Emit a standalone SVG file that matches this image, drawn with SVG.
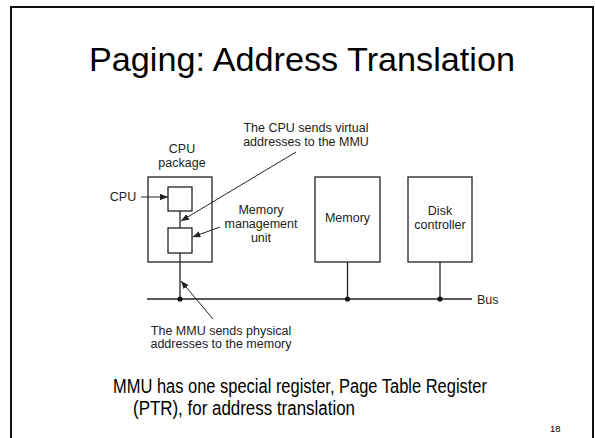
<svg xmlns="http://www.w3.org/2000/svg" width="595" height="438" viewBox="0 0 595 438">
  <defs>
    <style>
      .frame { fill: none; stroke: #111; stroke-width: 2; }
      .box { fill: #fff; stroke: #222; stroke-width: 1.3; }
      .wire { fill: none; stroke: #222; stroke-width: 1.3; }
      .lead { fill: none; stroke: #222; stroke-width: 1; }
      .lbl { font-family: "Liberation Sans", Arial, sans-serif; font-size: 12.5px; fill: #222; text-anchor: middle; }
      .head { font-family: "Liberation Sans", Arial, sans-serif; fill: #000; }
      .dot { fill: #111; }
    </style>
    <marker id="arrow" viewBox="0 0 10 8" refX="10" refY="4" markerWidth="8" markerHeight="6.4" markerUnits="userSpaceOnUse" orient="auto">
      <path d="M0,0 L10,4 L0,8 Z" fill="#222"/>
    </marker>
  </defs>

  <rect width="595" height="438" fill="#fff"/>
  <path class="frame" d="M11,440 V7 H593 V440"/>

  <!-- Title -->
  <text class="head" x="89" y="71" font-size="34" textLength="426" lengthAdjust="spacingAndGlyphs">Paging: Address Translation</text>

  <!-- Nodes -->
  <g id="cpu-package">
    <rect class="box" x="148" y="177" width="64" height="85"/>
    <text class="lbl" x="182" y="153">CPU</text>
    <text class="lbl" x="182" y="167">package</text>
  </g>
  <g id="cpu">
    <rect class="box" x="168" y="187" width="24" height="24"/>
    <text class="lbl" x="123" y="201">CPU</text>
  </g>
  <g id="mmu">
    <rect class="box" x="168" y="228" width="24" height="25"/>
    <text class="lbl" x="261" y="214">Memory</text>
    <text class="lbl" x="261" y="228">management</text>
    <text class="lbl" x="261" y="242">unit</text>
  </g>
  <g id="memory">
    <rect class="box" x="315" y="177" width="65" height="85"/>
    <text class="lbl" x="347.5" y="222">Memory</text>
  </g>
  <g id="disk-controller">
    <rect class="box" x="408" y="177" width="64" height="85"/>
    <text class="lbl" x="440" y="215">Disk</text>
    <text class="lbl" x="440" y="229">controller</text>
  </g>
  <g id="bus">
    <text class="lbl" x="477" y="303.5" style="text-anchor:start">Bus</text>
  </g>
  <g id="note-virtual">
    <text class="lbl" x="306" y="132">The CPU sends virtual</text>
    <text class="lbl" x="306" y="146">addresses to the MMU</text>
  </g>
  <g id="note-physical">
    <text class="lbl" x="221" y="335">The MMU sends physical</text>
    <text class="lbl" x="221" y="348">addresses to the memory</text>
  </g>

  <!-- Connectors -->
  <g id="connectors">
    <line class="wire" x1="147" y1="299" x2="472" y2="299"/>
    <line class="wire" x1="180" y1="211" x2="180" y2="228"/>
    <line class="wire" x1="180" y1="253" x2="180" y2="299"/>
    <line class="wire" x1="347.5" y1="262" x2="347.5" y2="299"/>
    <line class="wire" x1="440" y1="262" x2="440" y2="299"/>
    <circle class="dot" cx="180" cy="299" r="2.6"/>
    <circle class="dot" cx="347.5" cy="299" r="2.6"/>
    <circle class="dot" cx="440" cy="299" r="2.6"/>
    <line class="lead" x1="141" y1="197" x2="168" y2="197" marker-end="url(#arrow)"/>
    <line class="lead" x1="220" y1="227" x2="192.5" y2="237" marker-end="url(#arrow)"/>
    <line class="lead" x1="296" y1="152" x2="181" y2="221" marker-end="url(#arrow)"/>
    <line class="lead" x1="213" y1="319" x2="181" y2="281" marker-end="url(#arrow)"/>
  </g>

  <!-- Footer text -->
  <text class="head" x="113" y="393" font-size="20" textLength="374" lengthAdjust="spacingAndGlyphs">MMU has one special register, Page Table Register</text>
  <text class="head" x="133" y="415" font-size="20" textLength="222" lengthAdjust="spacingAndGlyphs">(PTR), for address translation</text>
  <text class="head" x="550" y="432" font-size="9.5" fill="#222">18</text>
</svg>
